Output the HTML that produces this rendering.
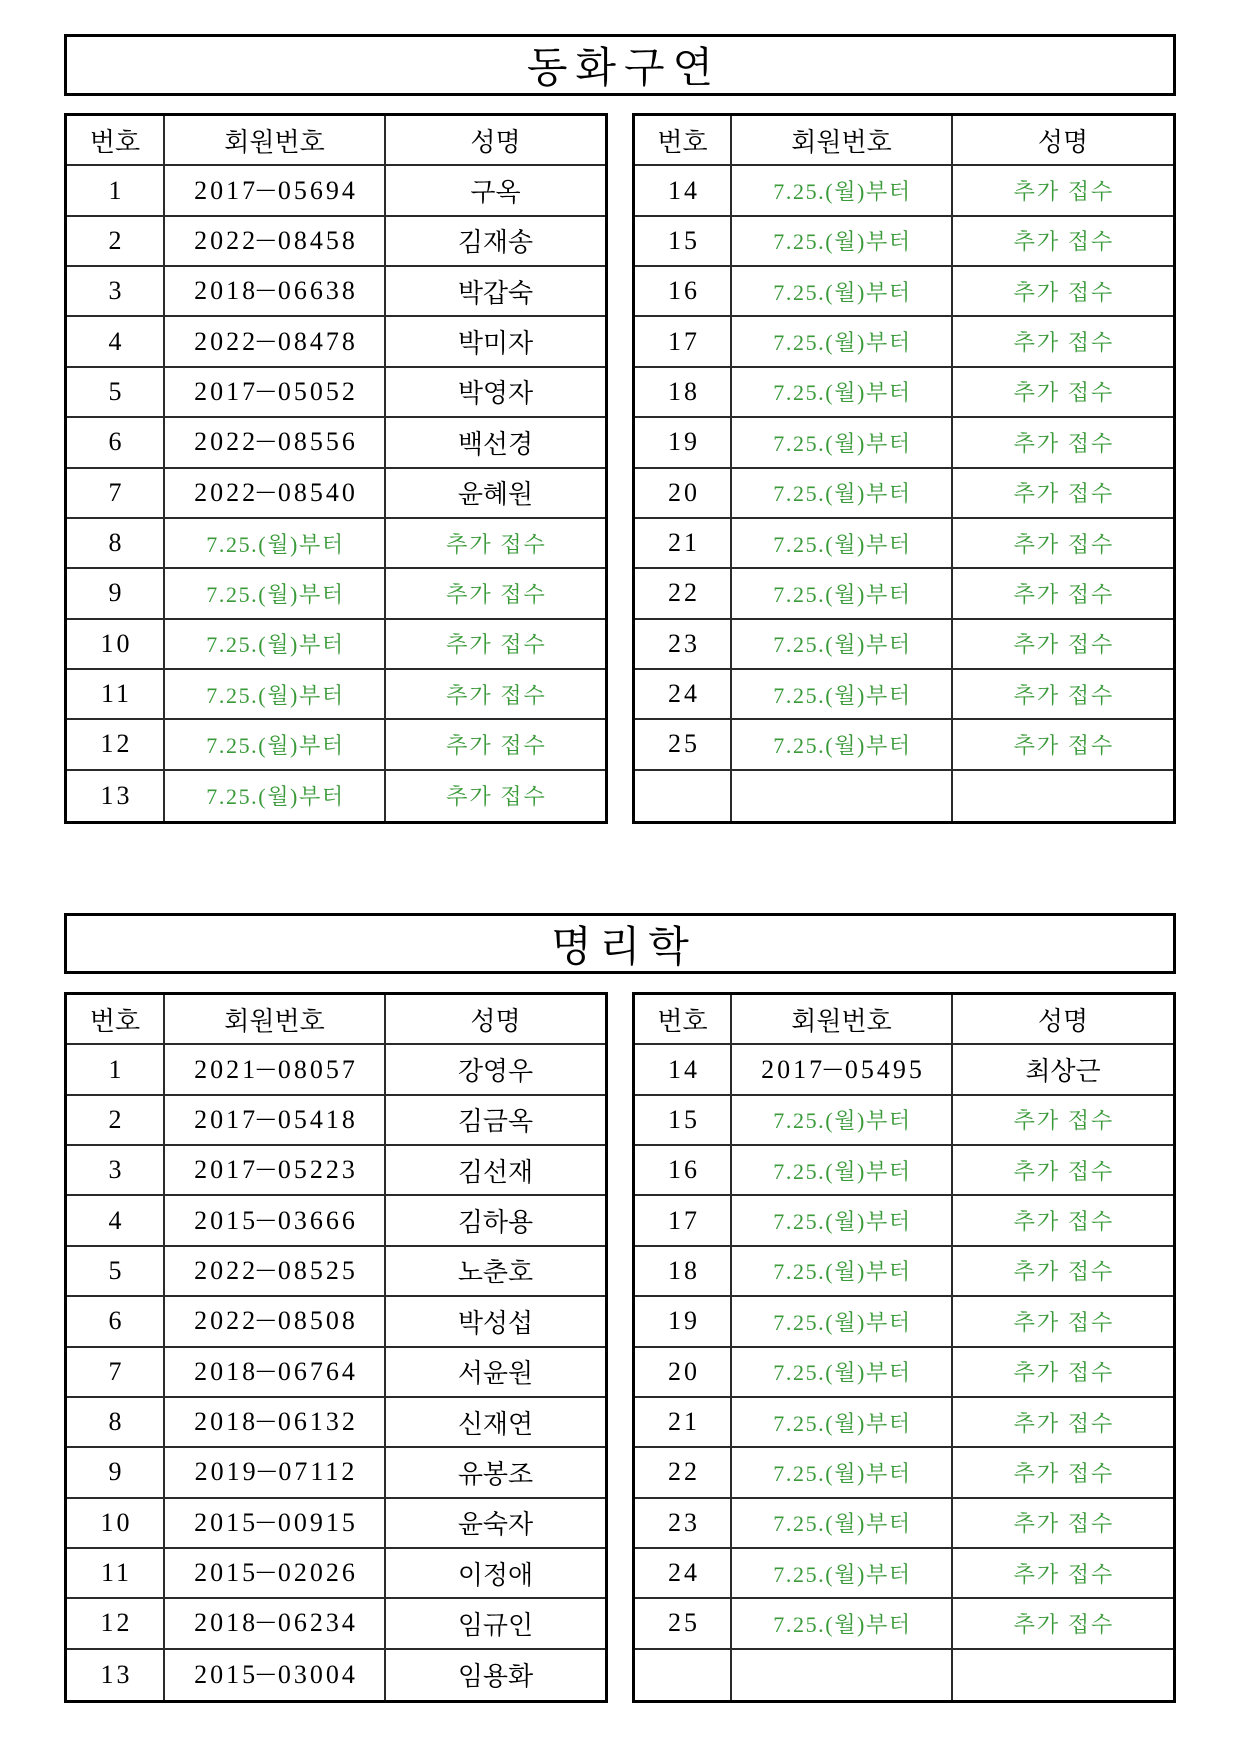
<!DOCTYPE html>
<html>
<head>
<meta charset="utf-8">
<style>
  html,body{margin:0;padding:0;background:#fff;}
  body{width:1240px;height:1753px;position:relative;overflow:hidden;
    font-family:"Liberation Serif","Noto Serif CJK KR","Noto Serif CJK SC",serif;color:#000;}
  .title{position:absolute;left:64px;width:1112px;box-sizing:border-box;border:3px solid #000;
    display:flex;align-items:center;justify-content:center;
    font-family:"Noto Serif CJK KR","Noto Serif CJK SC",serif;font-size:42px;letter-spacing:8px;padding-left:8px;}
  .tbl{position:absolute;box-sizing:border-box;border:3px solid #000;display:grid;
    grid-template-rows:repeat(14,1fr);}
  .L{left:64px;width:544px;grid-template-columns:98px 221px 1fr;}
  .R{left:632px;width:544px;grid-template-columns:97px 221px 1fr;}
  .tbl div{box-sizing:border-box;border-right:2px solid #2a2a2a;border-bottom:2px solid #2a2a2a;
    display:flex;align-items:center;justify-content:center;font-size:26px;white-space:nowrap;}
  .tbl div:nth-child(3n){border-right:none;}
  .tbl div:nth-last-child(-n+3){border-bottom:none;}
  .h{font-family:"Noto Serif CJK KR","Noto Serif CJK SC",serif;}
  .n{letter-spacing:3px;padding-left:3px;}
  .n i{font-style:normal;display:inline-block;transform:scaleX(1.5);margin:0 1px;}
  .k{font-family:"Noto Serif CJK KR","Noto Serif CJK SC",serif;}
  .tbl div.g{color:#3a9a3a;font-size:22px;letter-spacing:1.6px;padding-left:2px;}
  .tbl div.gk{color:#3a9a3a;font-size:22px;letter-spacing:2px;font-family:"Noto Serif CJK KR","Noto Serif CJK SC",serif;padding-left:2px;}
</style>
</head>
<body>

<div class="title" style="top:34px;height:62px;">동화구연</div>

<div class="tbl L" style="top:113px;height:711px;">
  <div class="h">번호</div><div class="h">회원번호</div><div class="h">성명</div>
  <div class="n">1</div><div class="n">2017<i>−</i>05694</div><div class="k">구옥</div>
  <div class="n">2</div><div class="n">2022<i>−</i>08458</div><div class="k">김재송</div>
  <div class="n">3</div><div class="n">2018<i>−</i>06638</div><div class="k">박갑숙</div>
  <div class="n">4</div><div class="n">2022<i>−</i>08478</div><div class="k">박미자</div>
  <div class="n">5</div><div class="n">2017<i>−</i>05052</div><div class="k">박영자</div>
  <div class="n">6</div><div class="n">2022<i>−</i>08556</div><div class="k">백선경</div>
  <div class="n">7</div><div class="n">2022<i>−</i>08540</div><div class="k">윤혜원</div>
  <div class="n">8</div><div class="g">7.25.(월)부터</div><div class="gk">추가 접수</div>
  <div class="n">9</div><div class="g">7.25.(월)부터</div><div class="gk">추가 접수</div>
  <div class="n">10</div><div class="g">7.25.(월)부터</div><div class="gk">추가 접수</div>
  <div class="n">11</div><div class="g">7.25.(월)부터</div><div class="gk">추가 접수</div>
  <div class="n">12</div><div class="g">7.25.(월)부터</div><div class="gk">추가 접수</div>
  <div class="n">13</div><div class="g">7.25.(월)부터</div><div class="gk">추가 접수</div>
</div>

<div class="tbl R" style="top:113px;height:711px;">
  <div class="h">번호</div><div class="h">회원번호</div><div class="h">성명</div>
  <div class="n">14</div><div class="g">7.25.(월)부터</div><div class="gk">추가 접수</div>
  <div class="n">15</div><div class="g">7.25.(월)부터</div><div class="gk">추가 접수</div>
  <div class="n">16</div><div class="g">7.25.(월)부터</div><div class="gk">추가 접수</div>
  <div class="n">17</div><div class="g">7.25.(월)부터</div><div class="gk">추가 접수</div>
  <div class="n">18</div><div class="g">7.25.(월)부터</div><div class="gk">추가 접수</div>
  <div class="n">19</div><div class="g">7.25.(월)부터</div><div class="gk">추가 접수</div>
  <div class="n">20</div><div class="g">7.25.(월)부터</div><div class="gk">추가 접수</div>
  <div class="n">21</div><div class="g">7.25.(월)부터</div><div class="gk">추가 접수</div>
  <div class="n">22</div><div class="g">7.25.(월)부터</div><div class="gk">추가 접수</div>
  <div class="n">23</div><div class="g">7.25.(월)부터</div><div class="gk">추가 접수</div>
  <div class="n">24</div><div class="g">7.25.(월)부터</div><div class="gk">추가 접수</div>
  <div class="n">25</div><div class="g">7.25.(월)부터</div><div class="gk">추가 접수</div>
  <div></div><div></div><div></div>
</div>

<div class="title" style="top:913px;height:61px;">명리학</div>

<div class="tbl L" style="top:992px;height:711px;">
  <div class="h">번호</div><div class="h">회원번호</div><div class="h">성명</div>
  <div class="n">1</div><div class="n">2021<i>−</i>08057</div><div class="k">강영우</div>
  <div class="n">2</div><div class="n">2017<i>−</i>05418</div><div class="k">김금옥</div>
  <div class="n">3</div><div class="n">2017<i>−</i>05223</div><div class="k">김선재</div>
  <div class="n">4</div><div class="n">2015<i>−</i>03666</div><div class="k">김하용</div>
  <div class="n">5</div><div class="n">2022<i>−</i>08525</div><div class="k">노춘호</div>
  <div class="n">6</div><div class="n">2022<i>−</i>08508</div><div class="k">박성섭</div>
  <div class="n">7</div><div class="n">2018<i>−</i>06764</div><div class="k">서윤원</div>
  <div class="n">8</div><div class="n">2018<i>−</i>06132</div><div class="k">신재연</div>
  <div class="n">9</div><div class="n">2019<i>−</i>07112</div><div class="k">유봉조</div>
  <div class="n">10</div><div class="n">2015<i>−</i>00915</div><div class="k">윤숙자</div>
  <div class="n">11</div><div class="n">2015<i>−</i>02026</div><div class="k">이정애</div>
  <div class="n">12</div><div class="n">2018<i>−</i>06234</div><div class="k">임규인</div>
  <div class="n">13</div><div class="n">2015<i>−</i>03004</div><div class="k">임용화</div>
</div>

<div class="tbl R" style="top:992px;height:711px;">
  <div class="h">번호</div><div class="h">회원번호</div><div class="h">성명</div>
  <div class="n">14</div><div class="n">2017<i>−</i>05495</div><div class="k">최상근</div>
  <div class="n">15</div><div class="g">7.25.(월)부터</div><div class="gk">추가 접수</div>
  <div class="n">16</div><div class="g">7.25.(월)부터</div><div class="gk">추가 접수</div>
  <div class="n">17</div><div class="g">7.25.(월)부터</div><div class="gk">추가 접수</div>
  <div class="n">18</div><div class="g">7.25.(월)부터</div><div class="gk">추가 접수</div>
  <div class="n">19</div><div class="g">7.25.(월)부터</div><div class="gk">추가 접수</div>
  <div class="n">20</div><div class="g">7.25.(월)부터</div><div class="gk">추가 접수</div>
  <div class="n">21</div><div class="g">7.25.(월)부터</div><div class="gk">추가 접수</div>
  <div class="n">22</div><div class="g">7.25.(월)부터</div><div class="gk">추가 접수</div>
  <div class="n">23</div><div class="g">7.25.(월)부터</div><div class="gk">추가 접수</div>
  <div class="n">24</div><div class="g">7.25.(월)부터</div><div class="gk">추가 접수</div>
  <div class="n">25</div><div class="g">7.25.(월)부터</div><div class="gk">추가 접수</div>
  <div></div><div></div><div></div>
</div>

</body>
</html>
